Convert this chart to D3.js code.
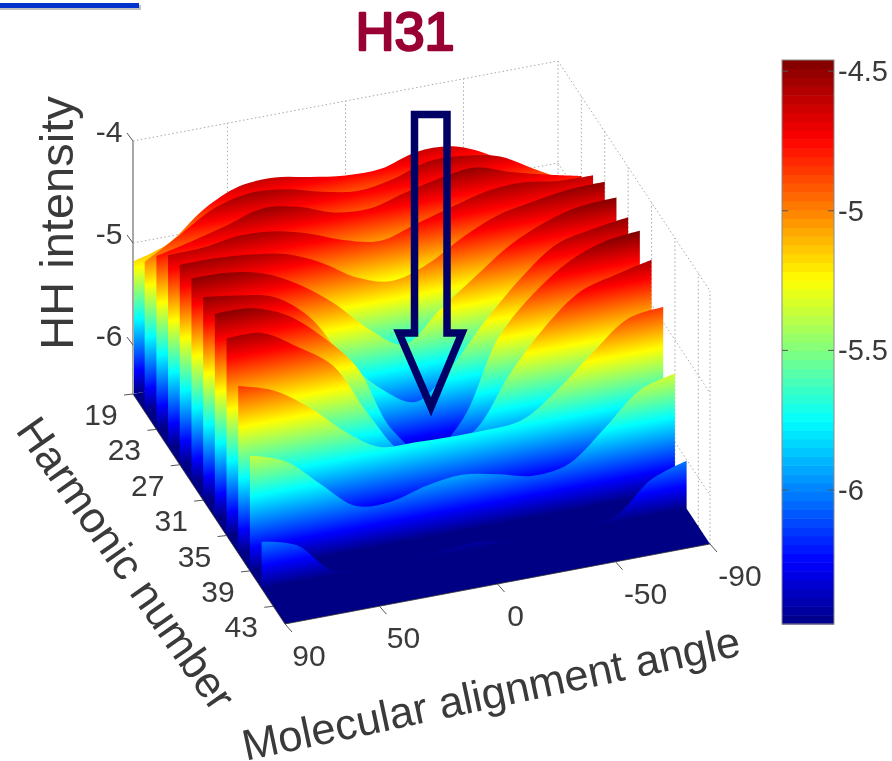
<!DOCTYPE html>
<html>
<head>
<meta charset="utf-8">
<script src="https://cdn.jsdelivr.net/npm/d3@7"></script>
<style>
  html, body { margin: 0; padding: 0; background: #fff; }
  svg { display: block; filter: blur(0.6px); }
  text { font-family: "Liberation Sans", Arial, sans-serif; fill: #3a3a3a; }
</style>
</head>
<body>
<div class="canvas"></div>
<script>
const angles = [90, 75, 60, 45, 30, 15, 0, -15, -30, -45, -60, -75, -90];
const harmonics = [19, 21, 23, 25, 27, 29, 31, 33, 35, 37, 39, 41, 43, 45];

const h19 = [-5.18, -5.07, -4.80, -4.64, -4.62, -4.68, -4.73, -4.73, -4.63, -4.64, -4.78, -5.02, -5.18];
const h21 = [-5.01, -4.81, -4.61, -4.53, -4.56, -4.65, -4.71, -4.66, -4.55, -4.56, -4.63, -4.82, -5.01];
const h23 = [-4.78, -4.70, -4.61, -4.51, -4.56, -4.68, -4.71, -4.62, -4.54, -4.50, -4.61, -4.70, -4.78];
const h25 = [-4.60, -4.59, -4.54, -4.56, -4.65, -4.78, -4.85, -4.75, -4.65, -4.56, -4.54, -4.59, -4.60];
const h27 = [-4.52, -4.52, -4.55, -4.61, -4.76, -4.97, -5.07, -4.97, -4.77, -4.62, -4.55, -4.50, -4.49];
const h29 = [-4.48, -4.49, -4.56, -4.73, -4.98, -5.30, -5.52, -5.25, -4.99, -4.74, -4.58, -4.49, -4.47];
const h31 = [-4.49, -4.54, -4.62, -4.88, -5.35, -5.71, -5.91, -5.63, -5.23, -4.88, -4.62, -4.54, -4.49];
const h33 = [-4.48, -4.49, -4.62, -4.89, -5.26, -5.94, -6.25, -5.97, -5.24, -4.87, -4.62, -4.49, -4.45];
const h35 = [-4.55, -4.56, -4.76, -5.01, -5.55, -5.99, -6.02, -5.91, -5.42, -5.02, -4.74, -4.64, -4.56];
const h37 = [-4.84, -4.95, -5.18, -5.48, -5.70, -5.72, -5.73, -5.73, -5.70, -5.47, -5.17, -4.90, -4.85];
const h39 = [-5.35, -5.47, -5.76, -6.04, -6.06, -5.97, -5.93, -5.99, -6.07, -6.02, -5.74, -5.43, -5.33];
const h41 = [-6.02, -6.12, -6.43, -6.46, -6.47, -6.45, -6.42, -6.46, -6.47, -6.47, -6.42, -6.13, -6.01];
const h43 = [-6.47, -6.47, -6.47, -6.47, -6.47, -6.47, -6.47, -6.47, -6.47, -6.47, -6.47, -6.47, -6.47];
const h45 = [-6.48, -6.48, -6.48, -6.48, -6.48, -6.48, -6.48, -6.48, -6.48, -6.48, -6.48, -6.48, -6.48];
const slices = [h19, h21, h23, h25, h27, h29, h31, h33, h35, h37, h39, h41, h43, h45];

const angleTicks = [90, 50, 0, -50, -90];
const harmonicTicks = [19, 23, 27, 31, 35, 39, 43];
const zTicks = [-4, -5, -6];
const colorbarTicks = [-4.5, -5, -5.5, -6];

const zFloor = -6.48;
const zTop = -4;
const colorMax = -4.46;

const svgWidth = 892;
const svgHeight = 761;

const svg = d3.select('.canvas').append('svg').attr('width', svgWidth).attr('height', svgHeight);
const defs = svg.append('defs');

// the view is orthographic so a point is just the sum of three screen vectors
const origin = { x: 133, y: 394 };
const angleX = d3.scaleLinear().domain([90, -90]).range([0, 425]);
const angleY = d3.scaleLinear().domain([90, -90]).range([0, -80]);
const harmX = d3.scaleLinear().domain([19, 45]).range([0, 152]);
const harmY = d3.scaleLinear().domain([19, 45]).range([0, 230]);
const zScale = d3.scaleLinear().domain([zFloor, zTop]).range([0, -253]);

const project = (a, h, z) => [
  origin.x + angleX(a) + harmX(h),
  origin.y + angleY(a) + harmY(h) + zScale(z)
];

// jet colormap
const jetStops = [0, 0.11, 0.36, 0.61, 0.86, 1];
const jetColors = ['#000084', '#0000ff', '#00ffff', '#ffff00', '#ff0000', '#800000'];
const jet = d3.scaleLinear().domain(jetStops).range(jetColors).clamp(true);

// back walls
const wall = svg.append('g')
  .attr('fill', 'none')
  .attr('stroke', '#a8a8a8')
  .attr('stroke-width', 1)
  .attr('stroke-dasharray', '1.5 2.5');

const wallLine = (p, q) => wall.append('line')
  .attr('x1', p[0]).attr('y1', p[1]).attr('x2', q[0]).attr('y2', q[1]);

zTicks.forEach((z) => {
  wallLine(project(90, 19, z), project(-90, 19, z));
  wallLine(project(-90, 19, z), project(-90, 45, z));
});
angleTicks.slice(1).forEach((a) => wallLine(project(a, 19, zFloor), project(a, 19, zTop)));
harmonicTicks.slice(1).forEach((h) => wallLine(project(-90, h, zFloor), project(-90, h, zTop)));
wallLine(project(-90, 45, zFloor), project(-90, 45, zTop));

// floor under the front slices
svg.append('path')
  .attr('d', d3.line()([
    project(90, 19, zFloor), project(-90, 19, zFloor),
    project(-90, 45, zFloor), project(90, 45, zFloor)
  ]) + 'Z')
  .attr('fill', jet(0));

// iso-z lines run along the angle axis, so the gradient is normal to that direction
const ux = angleX(-90), uy = angleY(-90);
const len = Math.hypot(ux, uy);
const nx = -uy / len, ny = ux / len;

const area = d3.area()
  .x((d) => d.top[0])
  .y0((d) => d.bottom[1])
  .y1((d) => d.top[1])
  .curve(d3.curveCatmullRom.alpha(0.5));

const surface = svg.append('g');

// painter's order, back to front
slices.forEach((values, i) => {
  const h = harmonics[i];
  const pts = values.map((z, k) => ({
    top: project(angles[k], h, z),
    bottom: project(angles[k], h, zFloor)
  }));

  const a = project(90, h, zFloor);
  const b = project(90, h, colorMax);
  const t = (b[0] - a[0]) * nx + (b[1] - a[1]) * ny;

  const id = `slice-${h}`;
  const grad = defs.append('linearGradient')
    .attr('id', id)
    .attr('gradientUnits', 'userSpaceOnUse')
    .attr('x1', a[0]).attr('y1', a[1])
    .attr('x2', a[0] + nx * t).attr('y2', a[1] + ny * t);

  jetStops.forEach((s, j) => {
    grad.append('stop').attr('offset', s).attr('stop-color', jetColors[j]);
  });

  surface.append('path')
    .attr('d', area(pts))
    .attr('fill', `url(#${id})`);
});

// axis lines and ticks
const axes = svg.append('g').attr('fill', 'none');

axes.append('path')
  .attr('d', d3.line()([project(90, 19, zTop), project(90, 19, zFloor)]))
  .attr('stroke', '#a8a8a8')
  .attr('stroke-width', 2);

axes.append('path')
  .attr('d', d3.line()([project(90, 19, zFloor), project(90, 45, zFloor), project(-90, 45, zFloor)]))
  .attr('stroke', '#333')
  .attr('stroke-width', 0.8);

const tickLine = (p, dx, dy) => axes.append('line')
  .attr('x1', p[0]).attr('y1', p[1]).attr('x2', p[0] + dx).attr('y2', p[1] + dy)
  .attr('stroke', '#555').attr('stroke-width', 1);

const labels = svg.append('g').attr('text-anchor', 'middle').attr('font-size', 30);

zTicks.forEach((z) => {
  const p = project(90, 19, z);
  tickLine(p, -6, -8);
  labels.append('text').attr('x', p[0] - 24).attr('y', p[1] + 1).text(z);
});

harmonicTicks.forEach((h) => {
  const p = project(90, h, zFloor);
  tickLine(p, -9, 1);
  labels.append('text').attr('x', p[0] - 32).attr('y', p[1] + 31).text(h);
});

angleTicks.forEach((a) => {
  const p = project(a, 45, zFloor);
  tickLine(p, 7, 8);
  labels.append('text')
    .attr('x', p[0] + 12 + 6 * String(a).length)
    .attr('y', p[1] + 42)
    .text(a);
});

// axis titles
const title = (text, x, y, rot, size) => svg.append('text')
  .attr('text-anchor', 'middle')
  .attr('font-size', size)
  .attr('transform', `translate(${x},${y}) rotate(${rot})`)
  .text(text);

title('HH intensity', 73, 223, -90, 47);
title('Harmonic number', 114, 572, 55, 43.5);
title('Molecular alignment angle', 494, 708, -12, 43.5);

// colorbar
const cbX = 782, cbW = 52;
const cbScale = d3.scaleLinear().domain([zFloor, colorMax]).range([624, 60]);
const levels = d3.range(64);
const levelZ = d3.scaleLinear().domain([0, 64]).range([zFloor, colorMax]);

const colorbar = svg.append('g');
colorbar.selectAll('rect')
  .data(levels)
  .enter()
  .append('rect')
  .attr('x', cbX)
  .attr('width', cbW)
  .attr('y', (d) => cbScale(levelZ(d + 1)))
  .attr('height', (d) => cbScale(levelZ(d)) - cbScale(levelZ(d + 1)) + 0.5)
  .attr('fill', (d) => jet((d + 0.5) / 64));

colorbar.append('rect')
  .attr('x', cbX).attr('y', 60).attr('width', cbW).attr('height', 564)
  .attr('fill', 'none').attr('stroke', '#8a8a8a').attr('stroke-width', 1);

const cbAxis = d3.axisRight(cbScale)
  .tickValues(colorbarTicks)
  .tickSize(0)
  .tickPadding(4)
  .tickFormat((d) => `${d}`);

const cbAxisGroup = svg.append('g')
  .attr('transform', `translate(${cbX + cbW},0)`)
  .call(cbAxis);
cbAxisGroup.select('.domain').remove();
cbAxisGroup.selectAll('text').attr('font-size', 29).attr('font-family', null);

colorbarTicks.forEach((z) => {
  [[cbX, 6], [cbX + cbW, -6]].forEach(([x, dx]) => {
    colorbar.append('line')
      .attr('x1', x).attr('x2', x + dx)
      .attr('y1', cbScale(z)).attr('y2', cbScale(z))
      .attr('stroke', '#555');
  });
});

// slide furniture
svg.append('rect').attr('x', 0).attr('y', 5).attr('width', 141).attr('height', 5).attr('fill', '#c0c0c0');
svg.append('rect').attr('x', 0).attr('y', 3).attr('width', 139).attr('height', 5).attr('fill', '#0033cc');

// rounded stroke stands in for the hand-lettered face of the original
svg.append('text')
  .attr('x', 405)
  .attr('y', 50)
  .attr('text-anchor', 'middle')
  .attr('font-size', 54)
  .style('fill', '#990033')
  .style('stroke', '#990033')
  .style('stroke-width', 2.5)
  .style('stroke-linejoin', 'round')
  .text('H31');

// arrow over the valley
svg.append('path')
  .attr('d', d3.line()([[414.5, 114.5], [447, 114.5], [447, 333], [462, 333], [431, 407], [399, 333], [414.5, 333]]) + 'Z')
  .attr('fill', 'none')
  .attr('stroke', '#000066')
  .attr('stroke-width', 7.5)
  .attr('stroke-linejoin', 'miter');
</script>
</body>
</html>
